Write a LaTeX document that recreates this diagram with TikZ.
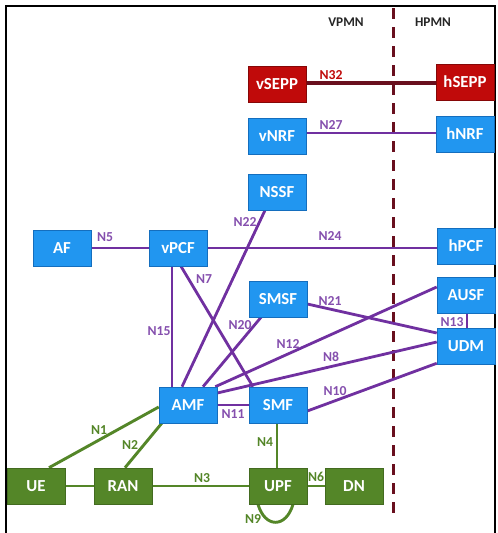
\documentclass[tikz,border=0pt]{standalone}
\usepackage{fontspec}
\setmainfont{Carlito}
\usetikzlibrary{calc}
\pgfdeclarelayer{bg}
\pgfsetlayers{bg,main}
\definecolor{nfblue}{RGB}{33,150,240}
\definecolor{nfblueb}{RGB}{20,110,190}
\definecolor{nfred}{RGB}{192,10,10}
\definecolor{nfgreen}{RGB}{84,134,40}
\definecolor{nfpurple}{RGB}{112,48,160}
\definecolor{nfdark}{RGB}{105,15,30}
\tikzset{
  nf/.style={minimum width=58pt, minimum height=36pt, inner sep=0pt, text=white,
    font=\fontsize{16.8}{16.8}\selectfont\bfseries},
  bluenf/.style={nf, fill=nfblue, draw=nfblueb, line width=0.6pt},
  rednf/.style={nf, fill=nfred, draw=nfred!70!black, line width=0.6pt},
  greennf/.style={nf, fill=nfgreen, draw=nfgreen!80!black, line width=0.6pt},
  pline/.style={draw=nfpurple, line width=2.8pt},
  gline/.style={draw=nfgreen, line width=2.9pt},
  rline/.style={draw=nfdark, line width=3.2pt},
  lab/.style={font=\fontsize{13.7}{13.7}\selectfont\bfseries, inner sep=0pt},
  plab/.style={lab, text=nfpurple!85!white},
  glab/.style={lab, text=nfgreen},
  rlab/.style={lab, text=nfred},
  hdr/.style={font=\fontsize{13.3}{13.3}\selectfont\bfseries, text=black!85, inner sep=0pt}
}
\begin{document}
\begin{tikzpicture}[x=1pt,y=-1pt]
\useasboundingbox (0,0) rectangle (498,533);
\begin{pgfonlayer}{bg}
\fill[white] (0,0) rectangle (498,533);
\end{pgfonlayer}

% nodes
\node[rednf] (vSEPP) at (277,84) {vSEPP};
\node[rednf] (hSEPP) at (465,82) {hSEPP};
\node[bluenf] (vNRF) at (277,136) {vNRF};
\node[bluenf] (hNRF) at (465,134) {hNRF};
\node[bluenf] (NSSF) at (277,192) {NSSF};
\node[bluenf] (AF) at (62,248) {AF};
\node[bluenf] (vPCF) at (178,248) {vPCF};
\node[bluenf] (hPCF) at (466,246) {hPCF};
\node[bluenf] (SMSF) at (278,299) {SMSF};
\node[bluenf] (AUSF) at (466,295) {AUSF};
\node[bluenf] (UDM) at (466,346) {UDM};
\node[bluenf] (AMF) at (188,405) {AMF};
\node[bluenf] (SMF) at (278,405) {SMF};
\node[greennf] (UE) at (36,486) {UE};
\node[greennf] (RAN) at (123,486) {RAN};
\node[greennf] (UPF) at (278,486) {UPF};
\node[greennf] (DN) at (354,486) {DN};

\begin{pgfonlayer}{bg}
% frame
\draw[black, line width=2pt] (6,533) -- (6,6) -- (495,6) -- (495,533);
% dashed divider
\coordinate (dtop) at (393,8);
\coordinate (dbot) at (393,514);
\draw[nfdark, line width=3pt, dash pattern=on 11pt off 8pt] (dtop) -- (dbot);
% edges
\draw[rline] (vSEPP.east |- 0,83) -- (hSEPP.west |- 0,83);
\draw[pline] (vNRF.east |- 0,133) -- (hNRF.west |- 0,133);
\draw[pline] (AF.east) -- (vPCF.west);
\draw[pline] (vPCF.east) -- (vPCF.east -| hPCF.west);
\draw[pline] ($(vPCF.south)+(-6,0)$) -- ($(AMF.north)+(-16,0)$);
\draw[pline] ($(vPCF.south)+(3,0)$) -- ($(SMF.north)+(-25,0)$);
\draw[pline] ($(NSSF.south)+(-12,0)$) -- ($(AMF.north)+(-6,0)$);
\draw[pline] ($(SMSF.south)+(-17,0)$) -- ($(AMF.north)+(15,0)$);
\draw[pline] ($(AMF.north east)+(-2,0)$) -- ($(AUSF.west)+(0,-8)$);
\draw[pline] ($(AMF.east)+(0,-12)$) -- ($(UDM.west)+(0,-4)$);
\draw[pline] ($(SMSF.east)+(0,5)$) -- ($(UDM.west)+(0,-13)$);
\draw[pline] ($(SMF.east)+(0,6)$) -- ($(UDM.south west)+(0,-1)$);
\draw[pline] ($(AUSF.south)+(1,0)$) -- ($(UDM.north)+(1,0)$);
\draw[pline] (AMF.east) -- (SMF.west);
\draw[gline] ($(AMF.west)+(0,2)$) -- ($(UE.north)+(13,0)$);
\draw[gline] ($(AMF.south west)+(3,0)$) -- ($(RAN.north)+(2,0)$);
\draw[gline] ($(SMF.south)+(-1,0)$) -- ($(UPF.north)+(-1,0)$);
\draw[gline] (UE.east) -- (RAN.west);
\draw[gline] (RAN.east) -- (UPF.west);
\draw[gline] (UPF.east) -- (DN.west);
\draw[gline] ($(UPF.south)+(-20,0)$) .. controls ($(UPF.south)+(-13,24)$) and ($(UPF.south)+(8,24)$) .. ($(UPF.south)+(15,0)$);
\end{pgfonlayer}

\node[hdr] (vpmn) at (346,22) {VPMN};
\node[hdr] (hpmn) at (433,22) {HPMN};

% labels
\node[rlab] (l32) at (331,75) {N32};
\node[plab] (l27) at (331,125) {N27};
\node[plab] (l5) at (105,237) {N5};
\node[plab] (l24) at (330,236) {N24};
\node[plab] (l22) at (245,222) {N22};
\node[plab] (l7) at (204,279) {N7};
\node[plab] (l15) at (159,331) {N15};
\node[plab] (l20) at (240,325) {N20};
\node[plab] (l21) at (330,301) {N21};
\node[plab] (l12) at (288,344) {N12};
\node[plab] (l13) at (452,322) {N13};
\node[plab] (l8) at (331,357) {N8};
\node[plab] (l10) at (335,391) {N10};
\node[plab] (l11) at (233,414) {N11};
\node[glab] (l1) at (99,430) {N1};
\node[glab] (l2) at (130,445) {N2};
\node[glab] (l4) at (265,442) {N4};
\node[glab] (l3) at (202,478) {N3};
\node[glab] (l6) at (316,477) {N6};
\node[glab] (l9) at (253,519) {N9};
\end{tikzpicture}
\end{document}
